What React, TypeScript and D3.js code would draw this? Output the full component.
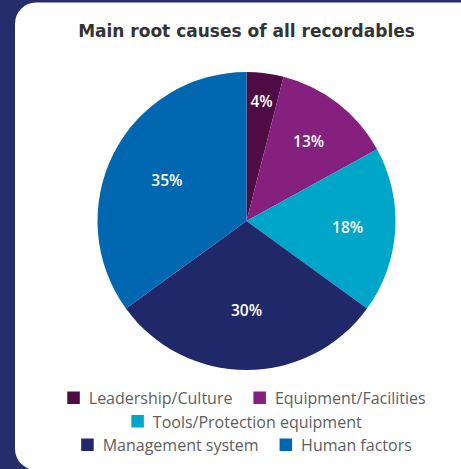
import React from "react";
import * as d3 from "d3";

const categories = ["Leadership/Culture", "Equipment/Facilities", "Tools/Protection equipment", "Management system", "Human factors"];
const values = [4, 13, 18, 30, 35];
const colors = ["#4e0b44", "#85207f", "#00a6c8", "#20286a", "#0067b0"];
const legendRows = [[0, 1], [2], [3, 4]];
const title = "Main root causes of all recordables";

const W = 461, H = 469;
const cx = 246.5, cy = 221, R = 149;

function measure(text: string, font: string) {
  const c = document.createElement("canvas").getContext("2d")!;
  c.font = font;
  return c.measureText(text).width;
}

export default function App() {
  const pie = d3.pie<number>().sort(null).value((d) => d)(values);
  const arc = d3.arc<d3.PieArcDatum<number>>().innerRadius(0).outerRadius(R);
  const legendSize = 16;
  const legendFont = `${legendSize}px 'Open Sans'`;
  const sq = 12.5, gapSqText = 9, gapItems = 21;
  const rowBaselines = [404, 427.5, 451];

  const cardX = 15, cardY = 2.5, rr = 21;
  const cardPath = `M${cardX},${cardY + rr} A${rr},${rr} 0 0 1 ${cardX + rr},${cardY} L${W + 30},${cardY} L${W + 30},${H + 1} L${cardX + rr},${H + 1} A${rr},${rr} 0 0 1 ${cardX},${H + 1 - rr} Z`;

  return (
    <svg width={W} height={H} style={{ position: "absolute", left: 0, top: 0 }}>
      <rect x={0} y={0} width={W} height={H} fill="#272c6a" />
      <path d={cardPath} fill="#ffffff" />
      <text x={cx} y={36.5} textAnchor="middle" fontFamily="'DejaVu Sans'" fontWeight="bold" fontSize={17} fill="#333333">
        {title}
      </text>
      <g transform={`translate(${cx},${cy})`}>
        {pie.map((p, i) => (
          <path key={i} d={arc(p)!} fill={colors[i]} />
        ))}
        {pie.map((p, i) => {
          const v = values[i];
          const lr = v < 10 ? R * 0.81 : v < 20 ? R * 0.68 : R * 0.6;
          const a = (p.startAngle + p.endAngle) / 2;
          const x = Math.sin(a) * lr, y = -Math.cos(a) * lr;
          return (
            <text key={"l" + i} x={x} y={y} dy="0.36em" textAnchor="middle" fontFamily="'Open Sans'" fontWeight={600} fontSize={15.5} fill="#ffffff">
              {v}%
            </text>
          );
        })}
      </g>
      {legendRows.map((row, ri) => {
        const widths = row.map((k) => sq + gapSqText + measure(categories[k], legendFont));
        const total = widths.reduce((a, b) => a + b, 0) + gapItems * (row.length - 1);
        let x = cx - total / 2;
        const base = rowBaselines[ri];
        return (
          <g key={ri}>
            {row.map((k, j) => {
              const x0 = x;
              x += widths[j] + gapItems;
              return (
                <g key={k}>
                  <rect x={x0} y={base - sq} width={sq} height={sq} fill={colors[k]} />
                  <text x={x0 + sq + gapSqText} y={base} fontFamily="'Open Sans'" fontSize={legendSize} fill="#5e5e5e">
                    {categories[k]}
                  </text>
                </g>
              );
            })}
          </g>
        );
      })}
    </svg>
  );
}
